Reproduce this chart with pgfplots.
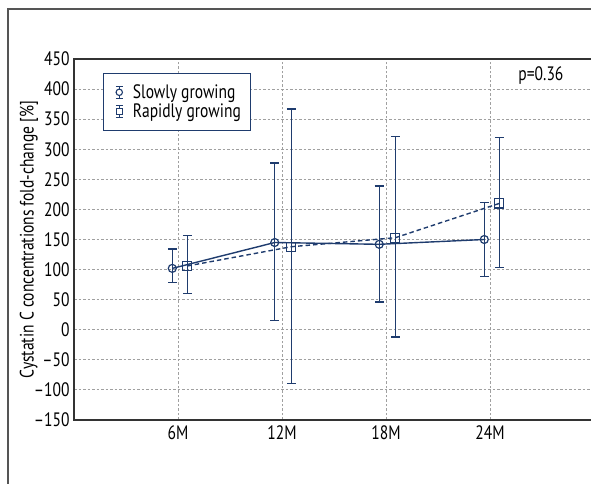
\documentclass[border=0pt]{standalone}
\usepackage{fontspec}
\setmainfont{PT Sans}[FakeStretch=0.8]
\usepackage{pgfplots}
\pgfplotsset{compat=1.18}
\definecolor{navy}{HTML}{1F3C6E}
\definecolor{gridc}{HTML}{A0A0A0}
\definecolor{axc}{HTML}{333333}
\definecolor{framec}{HTML}{555555}
\newcommand{\fs}{\fontsize{19.5}{22}\selectfont}
\begin{document}
\begin{tikzpicture}[x=1bp,y=1bp,font=\fs]
\begin{axis}[
  at={(74bp,64bp)}, anchor=south west,
  scale only axis, width=520bp, height=361bp,
  xmin=0, xmax=5, ymin=-150, ymax=450,
  xtick={1,2,3,4}, xticklabels={6M,12M,18M,24M},
  ytick={-150,-100,-50,0,50,100,150,200,250,300,350,400,450},
  yticklabels={\textendash150,\textendash100,\textendash50,0,50,100,150,200,250,300,350,400,450},
  major tick length=0pt,
  ticklabel style={font=\fs},
  yticklabel style={xshift=-1bp},
  xticklabel style={yshift=-2bp},
  grid=major,
  major grid style={gridc, dash pattern=on 2.5bp off 2bp, line width=1bp},
  axis line style={axc, line width=1.3bp},
  ylabel={Cystatin C concentrations fold-change [\%]},
  ylabel style={at={(axis description cs:-0.0865,0.5)}, anchor=center, font=\fs},
  legend style={at={(axis description cs:0.0558,0.961)}, anchor=north west,
    draw=navy, line width=1.1bp, font=\fs, inner xsep=8bp, inner ysep=9bp,
    row sep=0bp},
  legend cell align=left,
  clip=false,
]
\addplot[navy, line width=1.4bp, mark=o, mark size=4bp,
  mark options={fill=white, solid, line width=1.2bp},
  legend image code/.code={
  \path (-2bp,0) (16bp,0);
  \draw[navy, solid, line width=1.1bp] (5bp,-6bp)--(5bp,6bp) (1.5bp,-6bp)--(8.5bp,-6bp) (1.5bp,6bp)--(8.5bp,6bp);
  \draw[navy, solid, line width=1.1bp, fill=white] (5bp,0) circle (3.2bp);},
  error bars/.cd, y dir=both, y explicit,
  error bar style={navy, line width=1.3bp, solid},
  error mark options={navy, rotate=90, mark size=4.5bp, line width=1.3bp, solid},
  ]
  coordinates {
  (0.945,102) += (0,32) -= (0,24)
  (1.93,145) += (0,132) -= (0,130)
  (2.935,142) += (0,97) -= (0,96)
  (3.945,150) += (0,61) -= (0,61)
  };
\addlegendentry{Slowly growing}
\addplot[navy, line width=1.4bp, dash pattern=on 4.5bp off 3bp, mark=square, mark size=4.5bp,
  mark options={fill=white, solid, line width=1.2bp},
  legend image code/.code={
  \path (-2bp,0) (16bp,0);
  \draw[navy, solid, line width=1.1bp] (5bp,-6bp)--(5bp,6bp) (1.5bp,-6bp)--(8.5bp,-6bp) (1.5bp,6bp)--(8.5bp,6bp);
  \draw[navy, solid, line width=1.1bp, fill=white] (1.8bp,-3.2bp) rectangle (8.2bp,3.2bp);},
  error bars/.cd, y dir=both, y explicit,
  error bar style={navy, line width=1.3bp, solid},
  error mark options={navy, rotate=90, mark size=4.5bp, line width=1.3bp, solid},
  ]
  coordinates {
  (1.09,106) += (0,51) -= (0,46)
  (2.09,138) += (0,229) -= (0,227)
  (3.09,153) += (0,168) -= (0,165)
  (4.09,210) += (0,109) -= (0,106)
  };
\addlegendentry{Rapidly growing}
\node[font=\fs] at (axis cs:4.49,423) {p=0.36};
\end{axis}
\draw[framec, line width=1.3bp] (8bp,-5bp) -- (8bp,475bp) -- (600bp,475bp);
\pgfresetboundingbox
\path (0,0) rectangle (591bp,484bp);
\end{tikzpicture}
\end{document}
